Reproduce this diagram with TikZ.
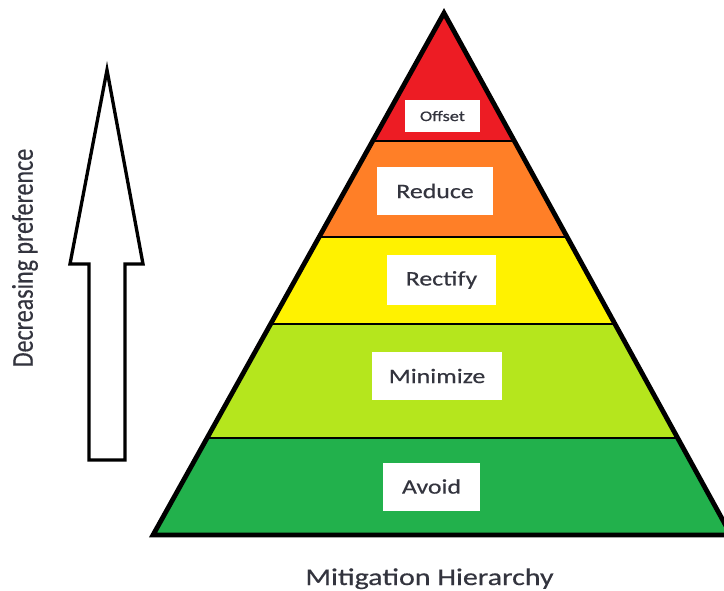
\documentclass[tikz,border=0pt]{standalone}
\usepackage{fontspec}
\setmainfont{Carlito}
\newfontfamily\widefont[FakeStretch=1.25,FakeBold=0.4]{Carlito}
\newfontfamily\plainfont[FakeBold=0.3]{Carlito}
\usetikzlibrary{calc}
\definecolor{cRed}{HTML}{ED1C24}
\definecolor{cOrange}{HTML}{FF7F27}
\definecolor{cYellow}{HTML}{FFF200}
\definecolor{cLime}{HTML}{B5E61D}
\definecolor{cGreen}{HTML}{22B14C}
\definecolor{txt}{HTML}{33343E}
\tikzset{
  band/.style={draw=none},
  divider/.style={line width=2pt, draw=black},
  outline/.style={line width=3.6pt, draw=black, line join=miter},
  labelbox/.style={fill=white, draw=none, text=txt, inner sep=0pt, font=\widefont\fontsize{15.5}{17}\selectfont},
}
\begin{document}
\begin{tikzpicture}[x=0.75pt,y=-0.75pt]
\clip (0,0) rectangle (724,590);
\fill[white] (0,0) rectangle (724,590);
% pyramid corners
\coordinate (A) at (444,13);
\coordinate (L) at (153,535);
\coordinate (R) at (731,535);
\foreach \n/\t in {1/0.2452,2/0.4291,3/0.5958,4/0.8142}{
  \coordinate (l\n) at ($(A)!\t!(L)$);
  \coordinate (r\n) at ($(A)!\t!(R)$);
}
% bands
\fill[cRed] (A) -- (l1) -- (r1) -- cycle;
\fill[cOrange] (l1) -- (l2) -- (r2) -- (r1) -- cycle;
\fill[cYellow] (l2) -- (l3) -- (r3) -- (r2) -- cycle;
\fill[cLime] (l3) -- (l4) -- (r4) -- (r3) -- cycle;
\fill[cGreen] (l4) -- (L) -- (R) -- (r4) -- cycle;
% dividers
\foreach \n in {1,2,3,4}{ \draw[divider] (l\n) -- (r\n); }
% outline
\draw[outline] (A) -- (L) -- (R) -- cycle;
% labels
\node[labelbox, font=\widefont\fontsize{11}{12}\selectfont, minimum width=56pt, minimum height=24pt] (offset) at (442.5,116) {Offset};
\node[labelbox, minimum width=87pt, minimum height=36pt] (reduce) at (435,191) {Reduce};
\node[labelbox, minimum width=82pt, minimum height=37pt] (rectify) at (441.5,280) {Rectify};
\node[labelbox, minimum width=97pt, minimum height=36pt] (minimize) at (437,376) {Minimize};
\node[labelbox, minimum width=73pt, minimum height=36pt] (avoid) at (431.5,486.5) {Avoid};
% arrow
\draw[line width=2.5pt, line join=miter, fill=white]
  (107,70) coordinate (tip) -- (143,264) -- (125,264) -- (125,460) -- (89,460) -- (89,264) -- (70,264) -- cycle;
\node[rotate=90, text=txt, font=\plainfont\fontsize{18}{20}\selectfont, inner sep=0pt] (pref) at (25,258) {\scalebox{1}[1.25]{Decreasing preference}};
% caption
\node[anchor=base, text=txt, font=\widefont\fontsize{18}{20}\selectfont, inner sep=0pt] (caption) at (429.5,585) {Mitigation Hierarchy};
\end{tikzpicture}
\end{document}
